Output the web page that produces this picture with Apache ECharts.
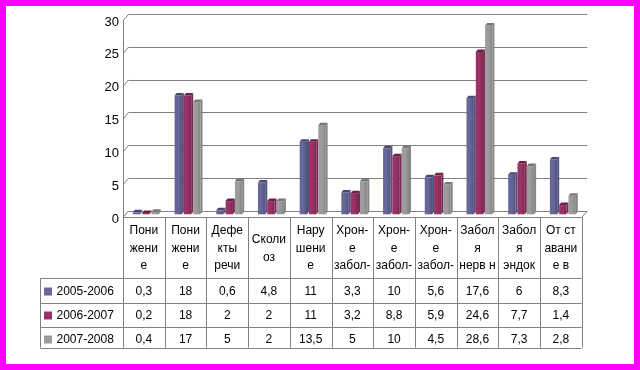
<!DOCTYPE html>
<html><head><meta charset="utf-8">
<script src="https://cdn.jsdelivr.net/npm/echarts@6/dist/echarts.min.js"></script>
<style>html,body{margin:0;padding:0;background:#fff}#c{width:640px;height:370px}</style>
</head><body><div id="c"></div>
<script>
const categories = ["Пони\nжени\nе","Пони\nжени\nе","Дефе\nкты\nречи","Сколи\nоз","Нару\nшени\nе","Хрон-\nе\nзабол-","Хрон-\nе\nзабол-","Хрон-\nе\nзабол-","Забол\nя\nнерв н","Забол\nя\nэндок","От ст\nавани\nе в"];
const seriesNames = ["2005-2006","2006-2007","2007-2008"];
const s2005 = [0.3,18,0.6,4.8,11,3.3,10,5.6,17.6,6,8.3];
const s2006 = [0.2,18,2,2,11,3.2,8.8,5.9,24.6,7.7,1.4];
const s2007 = [0.4,17,5,2,13.5,5,10,4.5,28.6,7.3,2.8];
const yMin = 0, yMax = 30, yStep = 5;

const allSeries = [s2005, s2006, s2007];
const colors = [
  {front:'#666699', top:'#47476f', side:'#51517e'},
  {front:'#993366', top:'#6c2046', side:'#7a2752'},
  {front:'#9c9c9c', top:'#767676', side:'#858585'}
];
const fmt = v => String(v).replace('.', ',');

// layout
const X0 = 123, COLW = 41.7, NC = categories.length, X1 = X0 + COLW*NC;
const FLOOR_F = 217, DX = 5.5, DY = -6;
const BACK_TOP = 14.3, BACK_H = 196.7;
const TBL_L = 40.3, ROWS = [278.3, 302.7, 326.7, 347.7];
const LINE = '#808080';
const FONT = '12px "Liberation Sans", Arial, sans-serif';
const px = v => Math.round(v) + 0.5;

const g = [];
// border
g.push({type:'rect', shape:{x:3,y:3,width:634,height:364}, style:{fill:null, stroke:'#ff00ff', lineWidth:6}, z:100});
// gridline diagonals on left wall
for (let v = yMin; v <= yMax; v += yStep) {
  const by = BACK_TOP + BACK_H*(1 - (v - yMin)/(yMax - yMin));
  g.push({type:'line', shape:{x1:X0+0.5, y1:by - DY, x2:X0+DX, y2:by}, style:{stroke:LINE,lineWidth:1}});
}
// floor right edge
g.push({type:'line', shape:{x1:X1+0.5,y1:FLOOR_F,x2:X1+DX,y2:FLOOR_F+DY}, style:{stroke:LINE,lineWidth:1}});
// table lines
g.push({type:'line', shape:{x1:X0,y1:px(FLOOR_F),x2:X1,y2:px(FLOOR_F)}, style:{stroke:LINE,lineWidth:1}});
ROWS.forEach(y => g.push({type:'line', shape:{x1:TBL_L,y1:px(y),x2:X1,y2:px(y)}, style:{stroke:LINE,lineWidth:1}}));
g.push({type:'line', shape:{x1:px(TBL_L),y1:ROWS[0],x2:px(TBL_L),y2:ROWS[3]}, style:{stroke:LINE,lineWidth:1}});
for (let k = 0; k <= NC; k++) {
  const x = px(X0 + COLW*k);
  g.push({type:'line', shape:{x1:x,y1:FLOOR_F,x2:x,y2:ROWS[3]}, style:{stroke:LINE,lineWidth:1}});
}
// header text
categories.forEach((c, i) => {
  g.push({type:'text', x: X0 + COLW*(i+0.5), y: (FLOOR_F + ROWS[0])/2 + 1,
    style:{text:c, fill:'#000', font:FONT, align:'center', verticalAlign:'middle', lineHeight:17.5}});
});
// legend + values
const rowC = [291.5, 315.5, 339.5];
seriesNames.forEach((n, s) => {
  g.push({type:'rect', shape:{x:44, y:rowC[s]-4, width:8, height:8}, style:{fill:colors[s].front}});
  g.push({type:'text', x:56.5, y:rowC[s], style:{text:n, fill:'#000', font:FONT, align:'left', verticalAlign:'middle'}});
  allSeries[s].forEach((v, i) => {
    g.push({type:'text', x: X0 + COLW*(i+0.5), y: rowC[s], style:{text:fmt(v), fill:'#000', font:FONT, align:'center', verticalAlign:'middle'}});
  });
});

function bar3d(sIdx) {
  const col = colors[sIdx];
  return {
    type:'custom', name: seriesNames[sIdx], xAxisIndex:2, yAxisIndex:2,
    data: allSeries[sIdx].map((v,i)=>[i,v]),
    renderItem: (params, api) => {
      const cat = api.value(0), val = api.value(1);
      const base = api.coord([cat, 0]);
      const top = api.coord([cat, val]);
      const bandW = api.size([1,0])[0];
      const groupW = bandW*0.67, each = groupW/3;
      const x = base[0] - groupW/2 + sIdx*each;
      const fw = each - 2, d = 2, dh = 2.5;
      return {type:'group', children:[
        {type:'rect', shape:{x:x, y:top[1], width:fw, height:base[1]-top[1]},
          style:{fill:new echarts.graphic.LinearGradient(0,0,1,0,[{offset:0,color:col.front},{offset:0.5,color:col.front},{offset:1,color:col.side}])}},
        {type:'polygon', shape:{points:[[x,top[1]],[x+d,top[1]-dh],[x+fw+d,top[1]-dh],[x+fw,top[1]]]}, style:{fill:col.top}},
        {type:'polygon', shape:{points:[[x+fw,top[1]],[x+fw+d,top[1]-dh],[x+fw+d,base[1]-dh],[x+fw,base[1]]]}, style:{fill:col.side}}
      ]};
    }
  };
}

const chart = echarts.init(document.getElementById('c'), null, {renderer:'canvas'});
chart.setOption({
  backgroundColor:'#fff',
  animation:false,
  grid:[
    {left:X0+DX, top:BACK_TOP, width:X1-X0, height:BACK_H},
    {left:X0, top:BACK_TOP-DY, width:X1-X0, height:BACK_H},
    {left:X0+3, top:16.3, width:X1-X0, height:198},
    {left:X0, top:22, width:X1-X0, height:197}
  ],
  xAxis:[
    {gridIndex:0, type:'category', data:categories, show:false},
    {gridIndex:1, type:'category', data:categories, show:false},
    {gridIndex:2, type:'category', data:categories, show:false},
    {gridIndex:3, type:'category', data:categories, show:false}
  ],
  yAxis:[
    {gridIndex:0, type:'value', min:yMin, max:yMax, interval:yStep, axisLine:{show:false}, axisTick:{show:false}, axisLabel:{show:false}, splitLine:{lineStyle:{color:LINE, width:1}}},
    {gridIndex:1, type:'value', min:yMin, max:yMax, interval:yStep, axisLine:{show:true, lineStyle:{color:LINE}}, axisTick:{show:false}, splitLine:{show:false}, axisLabel:{show:false}},
    {gridIndex:2, type:'value', min:yMin, max:yMax, interval:yStep, show:false, splitLine:{show:false}},
    {gridIndex:3, type:'value', min:yMin, max:yMax, interval:yStep, axisLine:{show:false}, axisTick:{show:false}, splitLine:{show:false},
      axisLabel:{color:'#000', fontSize:13, fontFamily:'"Liberation Sans", Arial, sans-serif', margin:4}}
  ],
  series:[bar3d(0), bar3d(1), bar3d(2)],
  graphic: g
});
</script></body></html>
